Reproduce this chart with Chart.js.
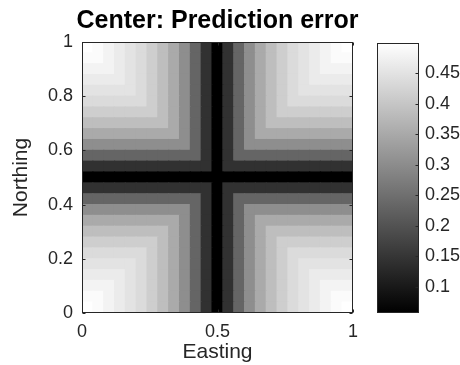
<!DOCTYPE html>
<html>
<head>
<meta charset="utf-8">
<script src="https://cdn.jsdelivr.net/npm/chart.js@4.4.1/dist/chart.umd.min.js"></script>
<style>
  html, body { margin: 0; padding: 0; background: #fff; }
  #wrap { position: relative; width: 460px; height: 365px; }
  #heat { position: absolute; left: 0; top: 0; }
  #cbar { position: absolute; left: 360px; top: 0; }
</style>
</head>
<body>
<div id="wrap">
  <canvas id="heat" width="435" height="365"></canvas>
  <canvas id="cbar" width="100" height="365"></canvas>
</div>
<script>
// Cell centres along each axis (25 x 25 grid)
const eastings = [0.02, 0.06, 0.10, 0.14, 0.18, 0.22, 0.26, 0.30, 0.34, 0.38, 0.42, 0.46, 0.50,
                  0.54, 0.58, 0.62, 0.66, 0.70, 0.74, 0.78, 0.82, 0.86, 0.90, 0.94, 0.98];
// top row first
const northings = [0.98, 0.94, 0.90, 0.86, 0.82, 0.78, 0.74, 0.70, 0.66, 0.62, 0.58, 0.54, 0.50,
                   0.46, 0.42, 0.38, 0.34, 0.30, 0.26, 0.22, 0.18, 0.14, 0.10, 0.06, 0.02];

// Prediction error, one row per northing
const errorRows = [
  [0.495,0.486,0.477,0.464,0.450,0.433,0.410,0.384,0.349,0.300,0.234,0.145,0.060,0.145,0.234,0.300,0.349,0.384,0.410,0.433,0.450,0.464,0.477,0.486,0.495],
  [0.486,0.486,0.477,0.464,0.450,0.433,0.410,0.384,0.349,0.300,0.234,0.145,0.060,0.145,0.234,0.300,0.349,0.384,0.410,0.433,0.450,0.464,0.477,0.486,0.486],
  [0.477,0.477,0.477,0.464,0.450,0.433,0.410,0.384,0.349,0.300,0.234,0.145,0.060,0.145,0.234,0.300,0.349,0.384,0.410,0.433,0.450,0.464,0.477,0.477,0.477],
  [0.464,0.464,0.464,0.464,0.450,0.433,0.410,0.384,0.349,0.300,0.234,0.145,0.060,0.145,0.234,0.300,0.349,0.384,0.410,0.433,0.450,0.464,0.464,0.464,0.464],
  [0.450,0.450,0.450,0.450,0.450,0.433,0.410,0.384,0.349,0.300,0.234,0.145,0.060,0.145,0.234,0.300,0.349,0.384,0.410,0.433,0.450,0.450,0.450,0.450,0.450],
  [0.433,0.433,0.433,0.433,0.433,0.433,0.410,0.384,0.349,0.300,0.234,0.145,0.060,0.145,0.234,0.300,0.349,0.384,0.410,0.433,0.433,0.433,0.433,0.433,0.433],
  [0.410,0.410,0.410,0.410,0.410,0.410,0.410,0.384,0.349,0.300,0.234,0.145,0.060,0.145,0.234,0.300,0.349,0.384,0.410,0.410,0.410,0.410,0.410,0.410,0.410],
  [0.384,0.384,0.384,0.384,0.384,0.384,0.384,0.384,0.349,0.300,0.234,0.145,0.060,0.145,0.234,0.300,0.349,0.384,0.384,0.384,0.384,0.384,0.384,0.384,0.384],
  [0.349,0.349,0.349,0.349,0.349,0.349,0.349,0.349,0.349,0.300,0.234,0.145,0.060,0.145,0.234,0.300,0.349,0.349,0.349,0.349,0.349,0.349,0.349,0.349,0.349],
  [0.300,0.300,0.300,0.300,0.300,0.300,0.300,0.300,0.300,0.300,0.234,0.145,0.060,0.145,0.234,0.300,0.300,0.300,0.300,0.300,0.300,0.300,0.300,0.300,0.300],
  [0.234,0.234,0.234,0.234,0.234,0.234,0.234,0.234,0.234,0.234,0.234,0.145,0.060,0.145,0.234,0.234,0.234,0.234,0.234,0.234,0.234,0.234,0.234,0.234,0.234],
  [0.145,0.145,0.145,0.145,0.145,0.145,0.145,0.145,0.145,0.145,0.145,0.145,0.060,0.145,0.145,0.145,0.145,0.145,0.145,0.145,0.145,0.145,0.145,0.145,0.145],
  [0.060,0.060,0.060,0.060,0.060,0.060,0.060,0.060,0.060,0.060,0.060,0.060,0.060,0.060,0.060,0.060,0.060,0.060,0.060,0.060,0.060,0.060,0.060,0.060,0.060],
  [0.145,0.145,0.145,0.145,0.145,0.145,0.145,0.145,0.145,0.145,0.145,0.145,0.060,0.145,0.145,0.145,0.145,0.145,0.145,0.145,0.145,0.145,0.145,0.145,0.145],
  [0.234,0.234,0.234,0.234,0.234,0.234,0.234,0.234,0.234,0.234,0.234,0.145,0.060,0.145,0.234,0.234,0.234,0.234,0.234,0.234,0.234,0.234,0.234,0.234,0.234],
  [0.300,0.300,0.300,0.300,0.300,0.300,0.300,0.300,0.300,0.300,0.234,0.145,0.060,0.145,0.234,0.300,0.300,0.300,0.300,0.300,0.300,0.300,0.300,0.300,0.300],
  [0.349,0.349,0.349,0.349,0.349,0.349,0.349,0.349,0.349,0.300,0.234,0.145,0.060,0.145,0.234,0.300,0.349,0.349,0.349,0.349,0.349,0.349,0.349,0.349,0.349],
  [0.384,0.384,0.384,0.384,0.384,0.384,0.384,0.384,0.349,0.300,0.234,0.145,0.060,0.145,0.234,0.300,0.349,0.384,0.384,0.384,0.384,0.384,0.384,0.384,0.384],
  [0.410,0.410,0.410,0.410,0.410,0.410,0.410,0.384,0.349,0.300,0.234,0.145,0.060,0.145,0.234,0.300,0.349,0.384,0.410,0.410,0.410,0.410,0.410,0.410,0.410],
  [0.433,0.433,0.433,0.433,0.433,0.433,0.410,0.384,0.349,0.300,0.234,0.145,0.060,0.145,0.234,0.300,0.349,0.384,0.410,0.433,0.433,0.433,0.433,0.433,0.433],
  [0.450,0.450,0.450,0.450,0.450,0.433,0.410,0.384,0.349,0.300,0.234,0.145,0.060,0.145,0.234,0.300,0.349,0.384,0.410,0.433,0.450,0.450,0.450,0.450,0.450],
  [0.464,0.464,0.464,0.464,0.450,0.433,0.410,0.384,0.349,0.300,0.234,0.145,0.060,0.145,0.234,0.300,0.349,0.384,0.410,0.433,0.450,0.464,0.464,0.464,0.464],
  [0.477,0.477,0.477,0.464,0.450,0.433,0.410,0.384,0.349,0.300,0.234,0.145,0.060,0.145,0.234,0.300,0.349,0.384,0.410,0.433,0.450,0.464,0.477,0.477,0.477],
  [0.486,0.486,0.477,0.464,0.450,0.433,0.410,0.384,0.349,0.300,0.234,0.145,0.060,0.145,0.234,0.300,0.349,0.384,0.410,0.433,0.450,0.464,0.477,0.486,0.486],
  [0.495,0.486,0.477,0.464,0.450,0.433,0.410,0.384,0.349,0.300,0.234,0.145,0.060,0.145,0.234,0.300,0.349,0.384,0.410,0.433,0.450,0.464,0.477,0.486,0.495]
];

// Colour limits and tick labels
const colorRange = [0.0575, 0.499];
const colorTicks = [0.1, 0.15, 0.2, 0.25, 0.3, 0.35, 0.4, 0.45];
const xTicks = [0, 0.5, 1];
const yTicks = [0, 0.2, 0.4, 0.6, 0.8, 1];

Chart.defaults.font.family = '"Liberation Sans", Arial, Helvetica, sans-serif';
Chart.defaults.color = '#262626';

const AXIS_COLOR = '#262626';
const fmt = v => String(Number(Number(v).toFixed(2)));

// MATLAB-like 64 level gray colormap
function grayFor(v) {
    let t = (v - colorRange[0]) / (colorRange[1] - colorRange[0]);
    t = Math.max(0, Math.min(1, t));
    const k = Math.min(63, Math.floor(t * 64));
    const g = Math.round(k / 63 * 255);
    return `rgb(${g},${g},${g})`;
}

// Build the cells as floating bars
const half = (eastings[1] - eastings[0]) / 2;
const cells = [];
const cellColors = [];
northings.forEach((n, r) => {
    eastings.forEach((e, c) => {
        cells.push({ x: e, y: [n - half, n + half] });
        cellColors.push(grayFor(errorRows[r][c]));
    });
});

// Box round the plot area with inward tick marks
const axesBox = {
    id: 'axesBox',
    afterDraw(chart) {
        const { ctx, chartArea: a, scales } = chart;
        const L = Math.round(a.left) + 0.5, R = Math.round(a.right) - 0.5;
        const T = Math.round(a.top) + 0.5, B = Math.round(a.bottom) - 0.5;
        ctx.save();
        ctx.strokeStyle = AXIS_COLOR;
        ctx.lineWidth = 1;
        ctx.beginPath();
        if (chart.canvas.id === 'heat') {
            xTicks.forEach(v => {
                const px = Math.round(scales.x.getPixelForValue(v)) + 0.5;
                ctx.moveTo(px, B); ctx.lineTo(px, B - 3);
                ctx.moveTo(px, T); ctx.lineTo(px, T + 3);
            });
            yTicks.forEach(v => {
                const py = Math.round(scales.y.getPixelForValue(v)) + 0.5;
                ctx.moveTo(L, py); ctx.lineTo(L + 3, py);
                ctx.moveTo(R, py); ctx.lineTo(R - 3, py);
            });
        } else {
            colorTicks.forEach(v => {
                const py = Math.round(scales.y.getPixelForValue(v)) + 0.5;
                ctx.moveTo(R, py); ctx.lineTo(R - 3, py);
            });
        }
        ctx.stroke();
        ctx.strokeRect(L, T, R - L, B - T);
        ctx.restore();
    }
};

new Chart(document.getElementById('heat'), {
    type: 'bar',
    data: {
        datasets: [{
            data: cells,
            backgroundColor: cellColors,
            borderWidth: 0,
            barPercentage: 1,
            categoryPercentage: 1,
            inflateAmount: 0.6
        }]
    },
    options: {
        responsive: false,
        animation: false,
        layout: { padding: { top: 1, right: 0, left: 0, bottom: 0 } },
        plugins: {
            legend: { display: false },
            tooltip: { enabled: false },
            title: {
                display: true,
                text: 'Center: Prediction error',
                color: '#000',
                font: { size: 25, weight: 'bold' },
                padding: { top: 5, bottom: 6 }
            }
        },
        scales: {
            x: {
                type: 'linear',
                min: 0,
                max: 1,
                offset: false,
                grid: { display: false, drawTicks: false },
                border: { display: false },
                afterBuildTicks: ax => { ax.ticks = xTicks.map(v => ({ value: v })); },
                afterFit: ax => { ax.height = 52; },
                ticks: { padding: 8, font: { size: 18 }, callback: fmt, maxRotation: 0, autoSkip: false },
                title: { display: true, text: 'Easting', font: { size: 21 }, padding: 0 }
            },
            y: {
                type: 'linear',
                min: 0,
                max: 1,
                grid: { display: false, drawTicks: false },
                border: { display: false },
                afterBuildTicks: ax => { ax.ticks = yTicks.map(v => ({ value: v })); },
                afterFit: ax => { ax.width = 82; },
                ticks: { padding: 9, font: { size: 18 }, callback: fmt, autoSkip: false },
                title: { display: true, text: 'Northing', font: { size: 21 }, padding: { top: 9, bottom: 0 } }
            },
            // empty spacer on the right so the title centres over the plot
            yRight: {
                type: 'linear',
                position: 'right',
                grid: { display: false, drawTicks: false },
                border: { display: false },
                ticks: { display: false },
                afterFit: ax => { ax.width = 82; }
            }
        }
    },
    plugins: [axesBox]
});

// Colour bar
new Chart(document.getElementById('cbar'), {
    type: 'bar',
    data: {
        labels: [''],
        datasets: [{
            data: [colorRange],
            backgroundColor: c => {
                const area = c.chart.chartArea;
                if (!area) return '#888';
                const g = c.chart.ctx.createLinearGradient(0, area.bottom, 0, area.top);
                g.addColorStop(0, '#000');
                g.addColorStop(1, '#fff');
                return g;
            },
            borderWidth: 0,
            barPercentage: 1,
            categoryPercentage: 1,
            inflateAmount: 0
        }]
    },
    options: {
        responsive: false,
        animation: false,
        layout: { padding: { left: 17, top: 43, bottom: 52, right: 0 } },
        plugins: { legend: { display: false }, tooltip: { enabled: false } },
        scales: {
            x: { display: false },
            y: {
                position: 'right',
                min: colorRange[0],
                max: colorRange[1],
                grid: { display: false, drawTicks: false },
                border: { display: false },
                afterBuildTicks: ax => { ax.ticks = colorTicks.map(v => ({ value: v })); },
                afterFit: ax => { ax.width = 41; },
                ticks: { padding: 6, font: { size: 18 }, callback: fmt, autoSkip: false }
            }
        }
    },
    plugins: [axesBox]
});
</script>
</body>
</html>
